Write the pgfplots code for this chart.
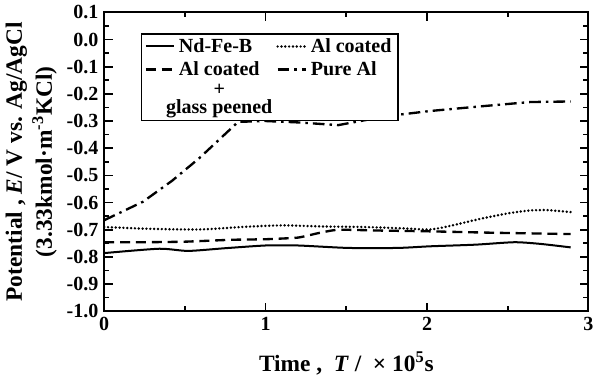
\documentclass[border=0pt]{standalone}
\usepackage{fontspec}
\setmainfont{Liberation Serif}
\usepackage{calc}
\usepackage{pgfplots}
\pgfplotsset{compat=1.18}
\begin{document}
\begin{tikzpicture}
\begin{axis}[
  scale only axis, width=290pt, height=179pt,
  xmin=0, xmax=3, ymin=-1, ymax=0.1,
  xtick={0,1,2,3}, minor xtick={0.5,1.5,2.5},
  ytick={-1,-0.9,-0.8,-0.7,-0.6,-0.5,-0.4,-0.3,-0.2,-0.1,0,0.1},
  minor ytick={-0.95,-0.85,-0.75,-0.65,-0.55,-0.45,-0.35,-0.25,-0.15,-0.05,0.05},
  tick align=inside,
  major tick length=5pt, minor tick length=3pt,
  axis line style={line width=1.2pt},
  every tick/.style={line width=1pt, black},
  tick label style={font=\fontsize{12}{14}\selectfont\bfseries},
  /pgf/number format/assume math mode=true,
  yticklabel style={/pgf/number format/.cd, fixed, fixed zerofill, precision=1},
  xticklabel style={/pgf/number format/.cd, fixed, precision=0},
  label style={font=\fontsize{14}{18}\selectfont\bfseries},
  xlabel={Time ,\ \ \textit{T} /\ \ \texttimes\ 10\textsuperscript{5}s},
  xlabel style={yshift=-6pt},
  ylabel={Potential , \textit{E}/ V vs. Ag/AgCl\\(3.33kmol·m\textsuperscript{-3}KCl)},
  ylabel style={align=center, yshift=-1pt},
  legend columns=2,
  legend style={at={(0.075,0.93)}, anchor=north west, draw=black, line width=1pt,
    font=\fontsize{12}{12}\selectfont\bfseries,
    inner xsep=2pt, inner ysep=0.5pt, row sep=0pt,
    /tikz/every even column/.append style={column sep=8pt}},
  legend cell align=left,
]
\addplot[black, line width=1.2pt, smooth, tension=0.4] coordinates {
 (0,-0.786) (0.34,-0.770) (0.52,-0.778) (0.75,-0.768) (1.0,-0.758) (1.2,-0.758) (1.51,-0.767) (1.82,-0.767) (2.02,-0.761) (2.3,-0.755) (2.54,-0.746) (2.7,-0.752) (2.89,-0.765)};
\addlegendentry{Nd-Fe-B}
\addplot[black, line width=1.6pt, line cap=round, dash pattern=on 0pt off 2.3pt, smooth, tension=0.4] coordinates {
 (0,-0.690) (0.3,-0.697) (0.6,-0.699) (0.85,-0.690) (1.10,-0.684) (1.35,-0.688) (1.61,-0.690) (1.85,-0.695) (2.02,-0.699) (2.15,-0.685) (2.33,-0.660) (2.5,-0.640) (2.64,-0.629) (2.75,-0.628) (2.89,-0.635)};
\addlegendentry{Al coated}
\addplot[black, line width=1.4pt, dash pattern=on 6pt off 3.5pt, smooth, tension=0.3] coordinates {
 (0,-0.746) (0.25,-0.746) (0.5,-0.744) (0.79,-0.737) (1.0,-0.735) (1.2,-0.729) (1.33,-0.712) (1.45,-0.700) (1.7,-0.703) (2.02,-0.706) (2.4,-0.711) (2.89,-0.716)};
\addlegendentry{Al coated}
\addplot[black, line width=1.4pt, dash pattern=on 7pt off 3pt on 1.5pt off 3pt] coordinates {
 (0,-0.665) (0.24,-0.597) (0.42,-0.520) (0.59,-0.436) (0.83,-0.303) (1.0,-0.300) (1.2,-0.305) (1.45,-0.315) (1.75,-0.282) (2.02,-0.263) (2.35,-0.245) (2.64,-0.230) (2.89,-0.228)};
\addlegendentry{Pure Al}
\addlegendimage{empty legend}
\addlegendentry{\makebox[\widthof{Al coated}][c]{\raisebox{0pt}[17.5pt][2.6pt]{\begin{tabular}[b]{@{}c@{}}+\\[-1pt]glass peened\end{tabular}}}}
\end{axis}
\end{tikzpicture}
\end{document}
